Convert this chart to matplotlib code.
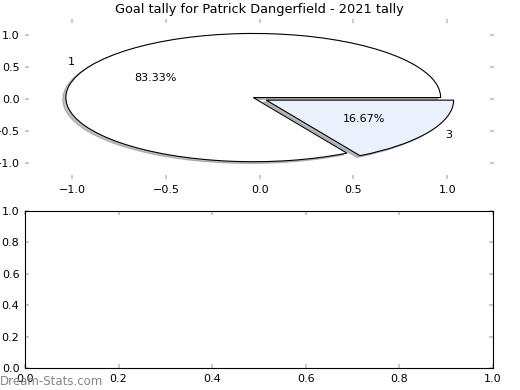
import matplotlib
matplotlib.use("Agg")
import matplotlib.pyplot as plt

# data
labels = ["1", "3"]
goals = [5, 1]
colours = ["#ffffff", "#eaf0fc"]
explode = [0.04, 0.04]
title = "Goal tally for Patrick Dangerfield - 2021 tally"

fig = plt.figure(figsize=(5.2, 3.9), dpi=100)

ax1 = fig.add_axes([0.049, 0.541, 0.901, 0.411])
ax1.pie(goals, labels=labels, colors=colours, explode=explode, autopct="%.2f%%",
        shadow={"ox": -0.012, "oy": -0.02, "shade": 0.5}, frame=True,
        wedgeprops={"edgecolor": "black", "linewidth": 0.8},
        textprops={"fontsize": 8})
ax1.set_xlim(-1.25, 1.25)
ax1.set_ylim(-1.25, 1.25)
ax1.set_aspect("auto")
ax1.set_title(title, fontsize=9.3, pad=4)
for s in ax1.spines.values():
    s.set_visible(False)

ax2 = fig.add_axes([0.048, 0.0564, 0.9, 0.4036])
ax2.set_xlim(0, 1)
ax2.set_ylim(0, 1)

for ax in (ax1, ax2):
    ax.tick_params(direction="in", length=3, width=1.2, color="#c0c0c0",
                   top=True, right=True, labelsize=8, pad=4)

# watermark
fig.text(0.0, 0.012, "Dream-Stats.com", fontsize=8.5, color="#858585")

fig.savefig("out.png", dpi=100)
plt.close(fig)
